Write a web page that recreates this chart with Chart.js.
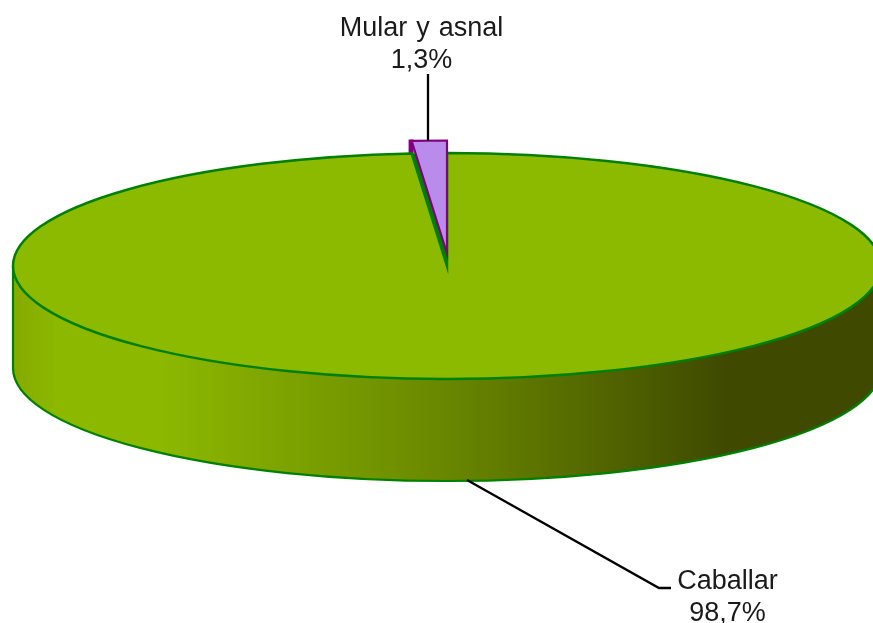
<!DOCTYPE html>
<html>
<head>
<meta charset="utf-8">
<style>
  html, body { margin: 0; padding: 0; background: #ffffff; overflow: hidden; }
  canvas { display: block; }
</style>
<script src="https://cdn.jsdelivr.net/npm/chart.js@4"></script>
</head>
<body>
<canvas id="pieChart" width="873" height="623"></canvas>
<script>
var categories = ['Caballar', 'Mular y asnal'];
var shares = [98.7, 1.3];

var sliceColors = ['#8cba00', '#b98cec'];
var sliceBorders = ['#008000', '#800080'];

// where the flattened pie sits on the page
var CX = 447, CY = 266, RX = 434, RY = 113;
var DEPTH = 102;
var EXPLODE = 12.5;

function flatten(ctx, el, dy) {
    ctx.translate(CX, CY - dy);
    ctx.scale(RX / el.outerRadius, RY / el.outerRadius);
    ctx.translate(-el.x, -el.y);
}

// path is built under the squash, stroked without it, so the line stays even
function outline(ctx, el, dy, color, width) {
    ctx.save();
    flatten(ctx, el, dy);
    ctx.beginPath();
    ctx.moveTo(el.x, el.y);
    ctx.arc(el.x, el.y, el.outerRadius, el.startAngle, el.endAngle);
    ctx.closePath();
    ctx.restore();
    ctx.strokeStyle = color;
    ctx.lineWidth = width;
    ctx.lineJoin = 'miter';
    ctx.stroke();
}

function drawWall(ctx) {
    var grad = ctx.createLinearGradient(CX - RX, 0, CX + RX, 0);
    grad.addColorStop(0, '#85aa00');
    grad.addColorStop(0.05, '#8cb800');
    grad.addColorStop(0.17, '#8cb800');
    grad.addColorStop(0.45, '#6f8f00');
    grad.addColorStop(0.6, '#5c7400');
    grad.addColorStop(0.82, '#3f4a00');
    grad.addColorStop(1, '#3f4a00');

    ctx.beginPath();
    ctx.ellipse(CX, CY, RX, RY, 0, Math.PI, 0, true);
    ctx.lineTo(CX + RX, CY + DEPTH);
    ctx.ellipse(CX, CY + DEPTH, RX, RY, 0, 0, Math.PI, false);
    ctx.closePath();
    ctx.fillStyle = grad;
    ctx.fill();

    ctx.beginPath();
    ctx.moveTo(CX - RX, CY);
    ctx.lineTo(CX - RX, CY + DEPTH);
    ctx.ellipse(CX, CY + DEPTH, RX, RY, 0, Math.PI, 0, true);
    ctx.lineTo(CX + RX, CY);
    ctx.strokeStyle = sliceBorders[0];
    ctx.lineWidth = 2.2;
    ctx.stroke();
}

function pctText(v) {
    return v.toFixed(1).replace('.', ',') + '%';
}

function drawLeaders(ctx) {
    ctx.strokeStyle = '#000000';
    ctx.lineWidth = 2.3;
    ctx.beginPath();
    ctx.moveTo(428, 74);
    ctx.lineTo(428, 141);
    ctx.stroke();
    ctx.beginPath();
    ctx.moveTo(467, 480);
    ctx.lineTo(659, 588);
    ctx.lineTo(671, 588);
    ctx.stroke();
}

function drawLabels(ctx) {
    ctx.fillStyle = '#1a1a1a';
    ctx.font = '27px "Liberation Sans", Arial, sans-serif';
    ctx.textAlign = 'center';
    ctx.textBaseline = 'alphabetic';
    ctx.wordSpacing = '1.5px';
    ctx.fillText(categories[1], 421.5, 36);
    ctx.fillText(pctText(shares[1]), 421.5, 68);
    ctx.fillText(categories[0], 727.5, 589);
    ctx.fillText(pctText(shares[0]), 727.5, 621);
    ctx.wordSpacing = '0px';
}

var pie3d = {
    id: 'pie3d',
    beforeDatasetsDraw: function(chart) {
        var ctx = chart.ctx;
        var arcs = chart.getDatasetMeta(0).data;
        var big = arcs[0], small = arcs[1];

        ctx.save();
        drawWall(ctx);

        // hole left in the top by the pulled out slice
        ctx.save();
        flatten(ctx, small, 0);
        ctx.beginPath();
        ctx.moveTo(small.x, small.y);
        ctx.arc(small.x, small.y, small.outerRadius, small.startAngle, small.endAngle);
        ctx.closePath();
        ctx.restore();
        ctx.fillStyle = sliceBorders[0];
        ctx.fill();

        // edge of the slice showing behind the rim
        var leftX = CX + RX * Math.cos(small.startAngle);
        var topY = CY - EXPLODE - RY;
        ctx.fillStyle = sliceBorders[1];
        ctx.fillRect(leftX - 3, topY - 1, 5, EXPLODE + 2);

        ctx.save();
        flatten(ctx, big, 0);
        big.draw(ctx);
        ctx.restore();
        outline(ctx, big, 0, sliceBorders[0], 2.5);

        ctx.save();
        flatten(ctx, small, EXPLODE);
        small.draw(ctx);
        ctx.restore();
        outline(ctx, small, EXPLODE, sliceBorders[1], 2.2);

        drawLeaders(ctx);
        drawLabels(ctx);
        ctx.restore();
        return false;
    }
};

new Chart(document.getElementById('pieChart').getContext('2d'), {
    type: 'pie',
    data: {
        labels: categories,
        datasets: [{
            data: shares,
            backgroundColor: sliceColors,
            borderWidth: 0
        }]
    },
    options: {
        responsive: false,
        animation: false,
        plugins: {
            legend: { display: false },
            tooltip: { enabled: false }
        }
    },
    plugins: [pie3d]
});
</script>
</body>
</html>
